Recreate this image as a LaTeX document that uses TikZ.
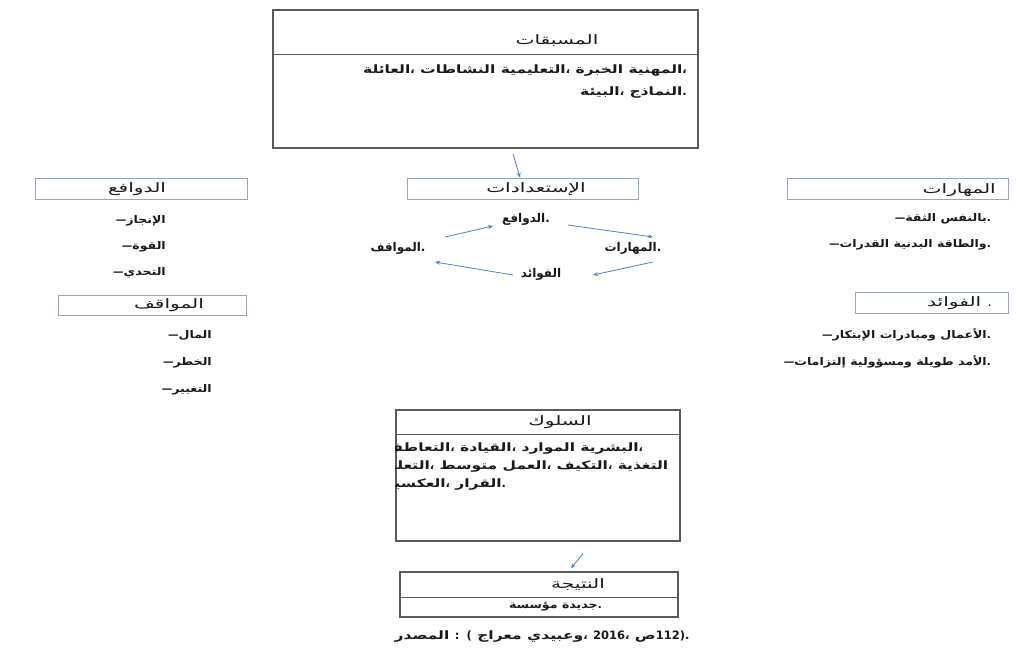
\documentclass[tikz,border=0pt]{standalone}
\usepackage{fontspec}
\usepackage{tikz}
\usetikzlibrary{arrows.meta,positioning}
\newfontfamily\arabicfont[Script=Arabic]{DejaVu Sans}
\newfontfamily\itemfont[Script=Arabic,FakeStretch=1.2]{DejaVu Sans}
\newfontfamily\widefont[Script=Arabic,FakeStretch=1.35]{DejaVu Sans}
\newfontfamily\titlefont[Script=Arabic,FakeStretch=1.55]{DejaVu Sans}
\newfontfamily\plainfont{DejaVu Sans}
\definecolor{frame}{RGB}{90,90,90}
\definecolor{pale}{RGB}{150,165,188}
\definecolor{arrowblue}{RGB}{79,129,189}
\definecolor{ink}{RGB}{25,25,25}
\newcommand{\punc}[1]{\kern0pt{\plainfont#1}}
\newcommand{\lead}{{\plainfont —}\kern0pt}
\tikzset{
  bigbox/.style={draw=frame, line width=1.4pt, inner sep=0pt},
  bigline/.style={draw=frame, line width=1pt},
  smallbox/.style={draw=pale, line width=0.9pt, inner sep=0pt, minimum height=21},
  ttl/.style={font={\titlefont\fontsize{13}{15}\selectfont}, text=ink, inner sep=1pt},
  body/.style={font={\widefont\bfseries\fontsize{11.5}{13}\selectfont}, text=ink, inner sep=1pt},
  item/.style={font={\itemfont\bfseries\fontsize{10.5}{12}\selectfont}, text=ink, inner sep=1pt, anchor=east},
  cyc/.style={font={\arabicfont\bfseries\fontsize{12}{14}\selectfont}, text=ink, inner sep=1pt},
  arr/.style={-{Stealth[length=5pt,width=4pt]}, draw=arrowblue, line width=0.8pt},
}
\begin{document}
\begin{tikzpicture}[x=1pt,y=-1pt]
\fill[white] (0,0) rectangle (1017,658);
\node[bigbox, minimum width=425, minimum height=138] (pre) at (485.5,79) {};
\draw[bigline] (pre.west |- 0,55) -- (pre.east |- 0,55);
\node[ttl] (preT) at (557,41) {المسبقات};
\node[body, anchor=east] (preA) at (688,71) {العائلة\punc{،} النشاطات التعليمية\punc{،} الخبرة المهنية\punc{،}};
\node[body, anchor=east] (preB) at (688,93) {البيئة\punc{،} النماذج\punc{.}};
\node[smallbox, minimum width=231] (ist) at (522.5,188.5) {};
\node[ttl] (istT) at (536,189) {الإستعدادات};
\draw[arr] ([xshift=27.5pt,yshift=-5pt]pre.south) -- ([xshift=-2.5pt]ist.north);
\node[smallbox, minimum width=212] (dwf) at (141,188.5) {};
\node[ttl] (dwfT) at (137,189) {الدوافع};
\node[item] (dwf1) at (167,221) {\lead الإنجاز};
\node[item] (dwf2) at (167,247) {\lead القوة};
\node[item] (dwf3) at (167,273) {\lead التحدي};
\node[smallbox, minimum width=188, minimum height=20] (mwq) at (152,305) {};
\node[ttl] (mwqT) at (169,305) {المواقف};
\node[item] (mwq1) at (213,335) {\lead المال};
\node[item] (mwq2) at (213,363) {\lead الخطر};
\node[item] (mwq3) at (213,390) {\lead التغيير};
\node[smallbox, minimum width=221] (mhr) at (897.5,188.5) {};
\node[ttl, anchor=east] (mhrT) at (997,190) {المهارات};
\node[item] (mhr1) at (992,219) {\lead الثقة بالنفس\punc{.}};
\node[item] (mhr2) at (992,245) {\lead القدرات البدنية والطاقة\punc{.}};
\node[smallbox, minimum width=153] (fwd) at (931.5,302.5) {};
\node[ttl, anchor=east] (fwdT) at (993,303) {الفوائد \punc{.}};
\node[item] (fwd1) at (992,335) {\lead الإبتكار ومبادرات الأعمال\punc{.}};
\node[item] (fwd2) at (992,362) {\lead إلتزامات ومسؤولية طويلة الأمد\punc{.}};
\node[cyc] (dwfC) at (526,219) {الدوافع\punc{.}};
\node[cyc] (mhrC) at (633,248) {المهارات\punc{.}};
\node[cyc] (fwdC) at (541,274) {الفوائد};
\node[cyc] (mwqC) at (398,248) {المواقف\punc{.}};
\draw[arr] ([shift={(42pt,-6pt)}]dwfC.center) -- ([shift={(20pt,11pt)}]mhrC.center);
\draw[arr] ([shift={(20pt,-14pt)}]mhrC.center) -- ([shift={(52pt,-1pt)}]fwdC.center);
\draw[arr] ([shift={(-28pt,-1pt)}]fwdC.center) -- ([shift={(37pt,-14pt)}]mwqC.center);
\draw[arr] ([shift={(47pt,11pt)}]mwqC.center) -- ([shift={(-33pt,-7pt)}]dwfC.center);
\node[bigbox, minimum width=284, minimum height=131] (beh) at (538,475.5) {};
\draw[bigline] (beh.west |- 0,434) -- (beh.east |- 0,434);
\node[ttl] (behT) at (560,422) {السلوك};
\begin{scope}
\clip (beh.south west) rectangle (beh.north east);
\node[body, anchor=west] (behA) at (384,449) {التعاطف\punc{،} القيادة\punc{،} الموارد البشرية\punc{،}};
\node[body, anchor=west] (behB) at (384,467) {التعلم\punc{،} متوسط العمل\punc{،} التكيف\punc{،} التغذية};
\node[body, anchor=west] (behC) at (384,485) {العكسية\punc{،} القرار\punc{.}};
\end{scope}
\node[bigbox, minimum width=278, minimum height=45] (res) at (539,594.5) {};
\draw[bigline] (res.west |- 0,597) -- (res.east |- 0,597);
\node[ttl] (resT) at (578,585) {النتيجة};
\node[item] (resA) at (603,607) {مؤسسة جديدة\punc{.}};
\draw[arr] ([shift={(45pt,-12pt)}]beh.south) -- ([shift={(32pt,3pt)}]res.north);
\node[body] (src) at (542,637) {المصدر \punc{:} \punc{(} معراج وعبيدي\punc{،} \punc{2016}\punc{،} ص\punc{112)}\punc{.}};
\end{tikzpicture}
\end{document}
